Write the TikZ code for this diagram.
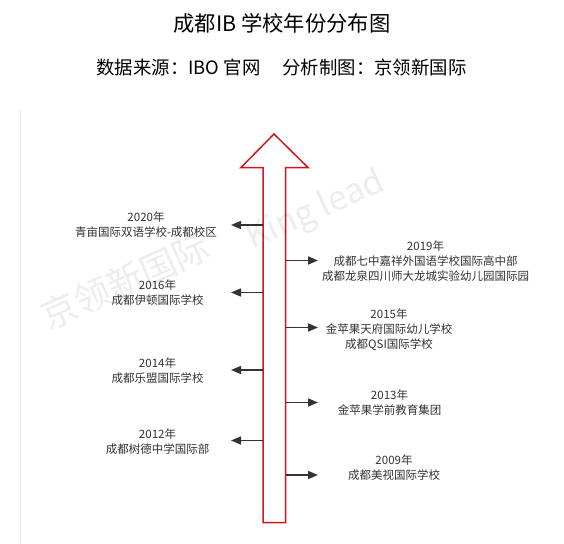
\documentclass[tikz,border=0pt]{standalone}
\usepackage{fontspec}
\setmainfont{Noto Sans CJK SC}
\usetikzlibrary{arrows.meta}
\definecolor{txt}{HTML}{333333}
\definecolor{redl}{HTML}{D0161E}
\begin{document}
\begin{tikzpicture}[x=1pt,y=-1pt,
  lbl/.style={font=\fontsize{11.5}{15}\selectfont, text=txt, align=center, inner sep=0pt},
  conn/.style={draw=txt, line width=1.5pt, -{Triangle[length=10pt,width=8pt]}},
  wmark/.style={text=black, text opacity=0.07, rotate=24, inner sep=0pt}]
\useasboundingbox (0,0) rectangle (564,543);
\fill[white] (0,0) rectangle (564,543);
% left border line
\draw[draw=black!9, line width=1pt] (20,110) -- (20,543);
% titles
\node[font=\fontsize{21.3}{24}\selectfont, text=black, inner sep=0pt] (title) at (282,23) {成都IB 学校年份分布图};
\node[font=\fontsize{18.4}{21}\selectfont, text=black, inner sep=0pt] (sub) at (281.5,67) {数据来源：IBO 官网\hspace{1.2em}分析制图：京领新国际};
% timeline arrow
\draw[draw=redl, line width=1.5pt, line join=miter]
  (263,522.5) -- (263,167.5) -- (241,167.5) -- (274,134) -- (308,167.5) -- (285.5,167.5) -- (285.5,522.5) -- cycle;
% shaft coordinates
\coordinate (l2020) at (263,225);
\coordinate (l2016) at (263,292.5);
\coordinate (l2014) at (263,370);
\coordinate (l2012) at (263,440.5);
\coordinate (r2019) at (285.5,260.5);
\coordinate (r2015) at (285.5,327.5);
\coordinate (r2013) at (285.5,402.5);
\coordinate (r2009) at (285.5,475);
\coordinate (t2020) at (231,225);
\coordinate (t2016) at (231,292.5);
\coordinate (t2014) at (231,370);
\coordinate (t2012) at (231,440.5);
\coordinate (t2019) at (318,260.5);
\coordinate (t2015) at (318,327.5);
\coordinate (t2013) at (318,402.5);
\coordinate (t2009) at (318,475);
% labels
\node[lbl] (n2020) at (146,224.5) {2020年\\青亩国际双语学校-成都校区};
\node[lbl] (n2016) at (157.5,292.5) {2016年\\成都伊顿国际学校};
\node[lbl] (n2014) at (157.5,371) {2014年\\成都乐盟国际学校};
\node[lbl] (n2012) at (157.5,442) {2012年\\成都树德中学国际部};
\node[lbl] (n2019) at (425.5,261.5) {2019年\\成都七中嘉祥外国语学校国际高中部\\成都龙泉四川师大龙城实验幼儿园国际园};
\node[lbl] (n2015) at (389,329.5) {2015年\\金苹果天府国际幼儿学校\\成都QSI国际学校};
\node[lbl] (n2013) at (389.5,402.5) {2013年\\金苹果学前教育集团};
\node[lbl] (n2009) at (394,467.5) {2009年\\成都美视国际学校};
% connectors
\foreach \y in {2020,2016,2014,2012} \draw[conn] (l\y) -- (t\y);
\foreach \y in {2019,2015,2013,2009} \draw[conn] (r\y) -- (t\y);
% watermarks (overlay)
\node[wmark, font=\fontsize{36}{36}\selectfont] (wm1) at (125,281) {京领新国际};
\node[wmark, font=\fontsize{34}{34}\selectfont] (wm2) at (316,211) {King lead};
\end{tikzpicture}
\end{document}
